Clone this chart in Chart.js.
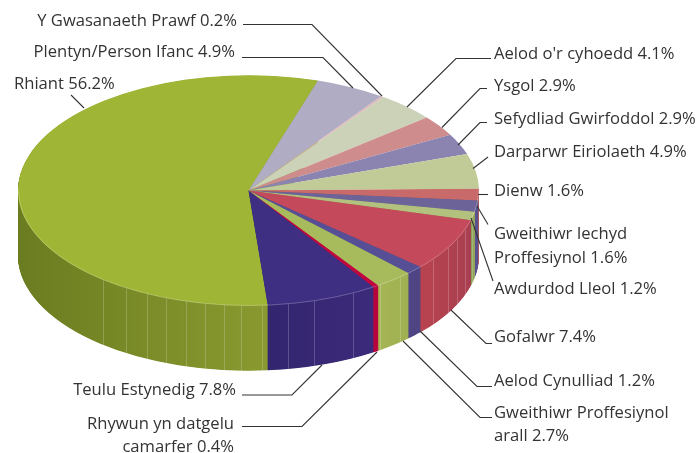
<!DOCTYPE html>
<html lang="cy">
<head>
    <meta charset="UTF-8">
    <title>Rhiant pie</title>
    <script src="https://cdn.jsdelivr.net/npm/chart.js"></script>
    <style>
        html, body { margin: 0; padding: 0; background: #fff; }
        #chart { display: block; }
    </style>
</head>
<body>
    <canvas id="chart" width="698" height="453"></canvas>

    <script>
        const categories = ['Rhiant', 'Plentyn/Person Ifanc', 'Y Gwasanaeth Prawf', "Aelod o'r cyhoedd", 'Ysgol',
            'Sefydliad Gwirfoddol', 'Darparwr Eiriolaeth', 'Dienw', 'Gweithiwr Iechyd Proffesiynol', 'Awdurdod Lleol',
            'Gofalwr', 'Aelod Cynulliad', 'Gweithiwr Proffesiynol arall', 'Rhywun yn datgelu camarfer', 'Teulu Estynedig'];
        const shares = [56.2, 4.9, 0.2, 4.1, 2.9, 2.9, 4.9, 1.6, 1.6, 1.2, 7.4, 1.2, 2.7, 0.4, 7.8];

        const topColours = ['#9fb535', '#b0acc4', '#dcb8b8', '#ccd2b8', '#cf8c8c', '#8b84b0', '#c1cb97', '#c86a6a',
            '#6c6398', '#b2c27e', '#c4495a', '#564f95', '#a8bb5c', '#c1063f', '#3e2f83'];
        // wall colour at the slice's left and right edge
        const wallColours = [
            ['#6a7c20', '#8a9a30'], ['#999', '#999'], ['#999', '#999'], ['#999', '#999'], ['#999', '#999'],
            ['#999', '#999'], ['#a8b280', '#a8b280'], ['#a85a5a', '#a85a5a'], ['#5a5290', '#5a5290'], ['#8ba055', '#96aa5e'],
            ['#b8434f', '#a83f50'], ['#4f4585', '#4f4585'], ['#a6b656', '#9fb052'], ['#b8063c', '#b8063c'], ['#33256f', '#3c2a7a']
        ];

        // callouts: text lines then the leader polyline
        const callouts = [
            { lines: [['Y Gwasanaeth Prawf 0.2%', 237, 26]], align: 'right', path: [[243, 24.5], [312, 24.5], [382, 96]] },
            { lines: [['Plentyn/Person Ifanc 4.9%', 235, 57]], align: 'right', path: [[242, 57.5], [323, 57.5], [353, 88]] },
            { lines: [['Rhiant 56.2%', 14, 89]], align: 'left', path: [[71, 95], [84, 108]] },
            { lines: [["Aelod o'r cyhoedd 4.1%", 494, 59]], align: 'left', path: [[491, 58.5], [456, 58.5], [407, 107]] },
            { lines: [['Ysgol 2.9%', 494, 91]], align: 'left', path: [[487, 88.5], [480, 88.5], [442, 127.5]] },
            { lines: [['Sefydliad Gwirfoddol 2.9%', 494, 124]], align: 'left', path: [[487, 122.5], [480, 122.5], [458, 145]] },
            { lines: [['Darparwr Eiriolaeth 4.9%', 494, 157]], align: 'left', path: [[488, 157], [473, 168.5]] },
            { lines: [['Dienw 1.6%', 494, 196]], align: 'left', path: [[478, 194.5], [488, 194.5]] },
            { lines: [['Gweithiwr Iechyd', 494, 239], ['Proffesiynol 1.6%', 494, 263]], align: 'left', path: [[477, 206], [488, 224.5]] },
            { lines: [['Awdurdod Lleol 1.2%', 494, 294]], align: 'left', path: [[471, 218], [493, 281]] },
            { lines: [['Gofalwr 7.4%', 494, 342]], align: 'left', path: [[451, 310], [486, 343.5], [492, 343.5]] },
            { lines: [['Aelod Cynulliad 1.2%', 494, 386]], align: 'left', path: [[420, 331], [477, 386.5], [492, 386.5]] },
            { lines: [['Gweithiwr Proffesiynol', 494, 418], ['arall 2.7%', 494, 441]], align: 'left', path: [[403, 341], [480, 417.5], [492, 417.5]] },
            { lines: [['Teulu Estynedig 7.8%', 236, 395]], align: 'right', path: [[322, 365], [292, 395], [242, 395]] },
            { lines: [['Rhywun yn datgelu', 234, 429], ['camarfer 0.4%', 234, 452]], align: 'right', path: [[377, 352], [302, 426.5], [242, 426.5]] }
        ];

        const squash = 0.5;
        const depth = 65;
        const wallLines = [103, 126, 147, 166, 186, 205, 224, 241, 262, 288, 314, 353, 380, 400, 433, 448, 457, 465, 472];

        const pie3d = {
            id: 'pie3d',
            beforeDatasetsDraw(chart) {
                const ctx = chart.ctx;
                const arcs = chart.getDatasetMeta(0).data;
                const { x: cx, y: cy, outerRadius: r } = arcs[0];
                const walls = arcs.map((arc, i) => {
                    // angles run past a full turn after the first slice, bring them back
                    const turn = arc.endAngle > 2 * Math.PI ? 2 * Math.PI : 0;
                    const a0 = Math.max(arc.startAngle - turn, 0);
                    const a1 = Math.min(arc.endAngle - turn, Math.PI);
                    if (a1 <= a0) return null;
                    const right = cx + r * Math.cos(a0) + 0.5;
                    const left = cx + r * Math.cos(a1) - 0.5;
                    const g = ctx.createLinearGradient(left, 0, right, 0);
                    g.addColorStop(0, wallColours[i][0]);
                    g.addColorStop(1, wallColours[i][1]);
                    return g;
                });
                // wall: the same arcs stacked from the bottom up
                for (let d = depth; d > 0; d -= 0.5) {
                    ctx.save();
                    ctx.translate(cx, cy + d);
                    ctx.scale(1, squash);
                    ctx.translate(-cx, -cy);
                    arcs.forEach((arc, i) => {
                        if (!walls[i]) return;
                        const saved = arc.options;
                        arc.options = { ...saved, backgroundColor: walls[i], borderWidth: 0 };
                        arc.draw(ctx);
                        arc.options = saved;
                    });
                    ctx.restore();
                }
                // thin vertical panel lines on the wall
                ctx.save();
                ctx.strokeStyle = 'rgba(255,255,255,0.2)';
                ctx.lineWidth = 1;
                wallLines.forEach(x => {
                    const y = cy + r * squash * Math.sqrt(1 - Math.pow((x - cx) / r, 2));
                    ctx.beginPath();
                    ctx.moveTo(x + 0.5, y);
                    ctx.lineTo(x + 0.5, y + depth);
                    ctx.stroke();
                });
                ctx.restore();
                // everything the chart draws next is the flat top
                ctx.save();
                ctx.translate(cx, cy);
                ctx.scale(1, squash);
                ctx.translate(-cx, -cy);
            },
            afterDatasetsDraw(chart) {
                const ctx = chart.ctx;
                const { x: cx, y: cy, outerRadius: r } = chart.getDatasetMeta(0).data[0];
                // light rim along the front edge
                ctx.beginPath();
                ctx.arc(cx, cy, r - 0.5, 0, Math.PI);
                ctx.restore();
                ctx.strokeStyle = 'rgba(255,255,255,0.3)';
                ctx.lineWidth = 0.8;
                ctx.stroke();

                ctx.strokeStyle = '#333';
                ctx.lineWidth = 1.1;
                ctx.fillStyle = '#333';
                ctx.font = '16.6px "Open Sans"';
                ctx.textBaseline = 'alphabetic';
                callouts.forEach(c => {
                    ctx.beginPath();
                    c.path.forEach((p, i) => i ? ctx.lineTo(p[0], p[1]) : ctx.moveTo(p[0], p[1]));
                    ctx.stroke();
                    ctx.textAlign = c.align;
                    c.lines.forEach(l => ctx.fillText(l[0], l[1], l[2]));
                });
            }
        };

        new Chart(document.getElementById('chart'), {
            type: 'pie',
            data: {
                labels: categories,
                datasets: [{
                    data: shares,
                    backgroundColor: topColours,
                    borderWidth: 0,
                    clip: false
                }]
            },
            options: {
                responsive: false,
                animation: false,
                rotation: 175.2,
                radius: 230.5,
                layout: { padding: { left: 0, top: 0, right: 201, bottom: 72 } },
                plugins: { legend: { display: false }, tooltip: { enabled: false } }
            },
            plugins: [pie3d]
        });
    </script>
</body>
</html>
